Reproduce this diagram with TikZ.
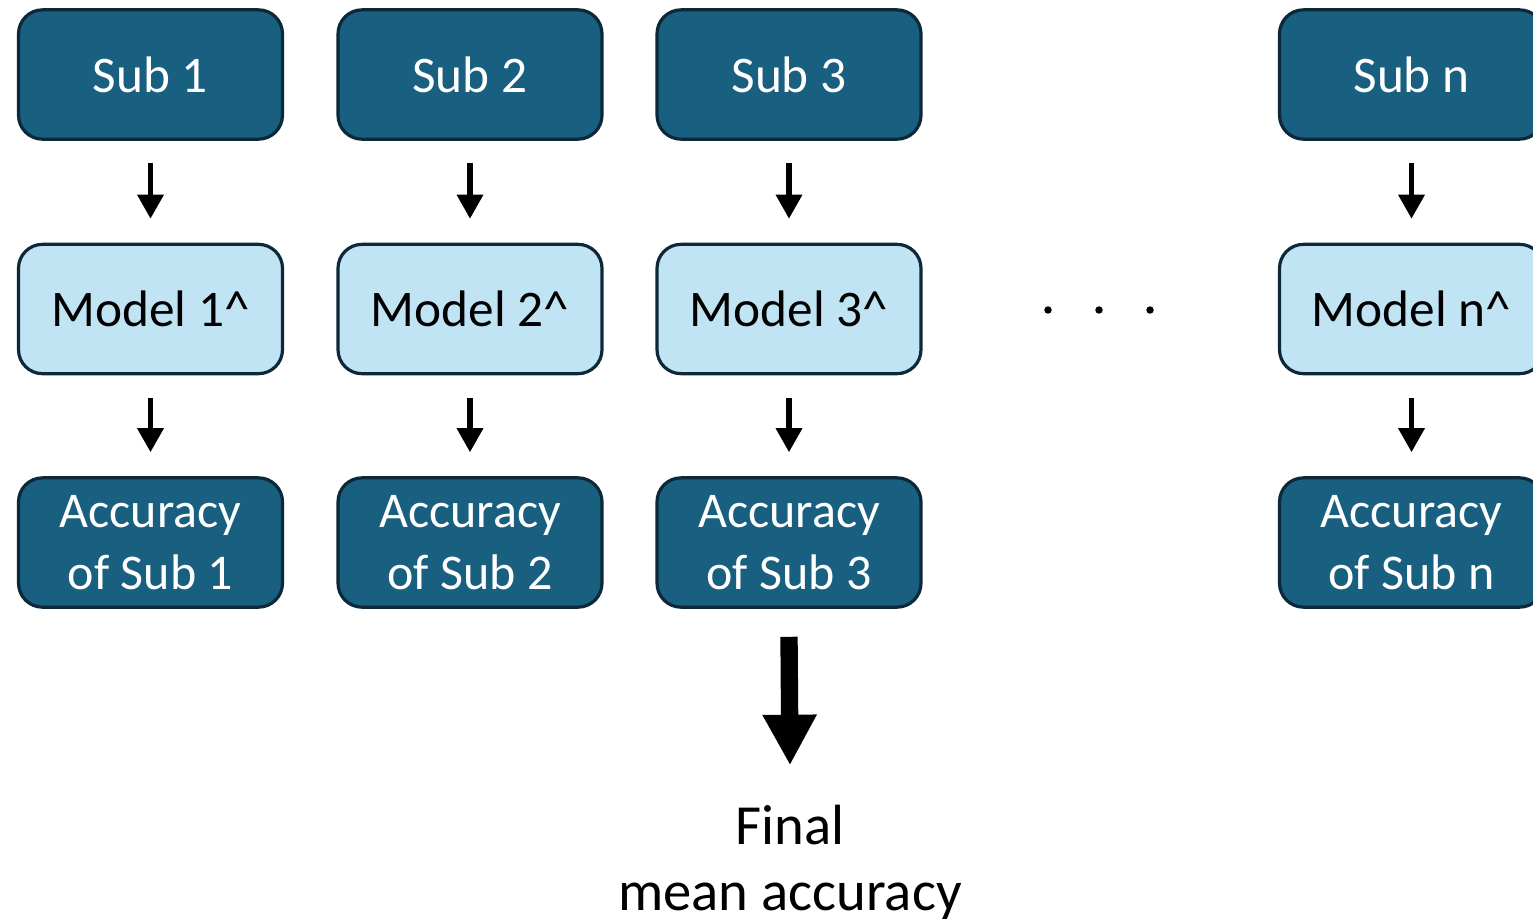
\documentclass[tikz,border=0pt]{standalone}
\usepackage{fontspec}
\setmainfont{Carlito}
\usetikzlibrary{arrows.meta}
\definecolor{subfill}{HTML}{185F80}
\definecolor{modfill}{HTML}{C1E4F5}
\definecolor{boxline}{HTML}{0C2839}
\tikzset{
  box/.style={draw=boxline, line width=2.4pt, rounded corners=18pt,
    minimum width=198pt, minimum height=97pt, inner sep=0pt, align=center},
  subbox/.style={box, fill=subfill, text=white, font=\fontsize{38.5}{44}\selectfont},
  modbox/.style={box, fill=modfill, text=black, font=\fontsize{38.5}{44}\selectfont},
  accbox/.style={box, fill=subfill, text=white, font=\fontsize{37.5}{46}\selectfont},
  smallarrow/.style={line width=4pt, -{Triangle[width=19pt,length=18pt]}},
  bigarrow/.style={line width=13pt, -{Triangle[width=38pt,length=38pt]}},
}
\begin{document}
\begin{tikzpicture}[x=0.75pt, y=-0.75pt]
\useasboundingbox (0,0) rectangle (1533,918);
\begin{scope}
\clip (0,0) rectangle (1533,918);
% columns of subject boxes
\foreach \i/\x in {1/150.5, 2/470, 3/789, n/1411.5} {
  \node[subbox] (s\i) at (\x,74.5) {Sub \i};
  \node[modbox] (m\i) at (\x,309) {Model \i\^{}};
  \node[accbox] (a\i) at (\x,542.5) {Accuracy\\of Sub \i};
  \draw[smallarrow] ([yshift=-17pt]s\i.south) -- ([yshift=18pt]m\i.north);
  \draw[smallarrow] ([yshift=-17pt]m\i.south) -- ([yshift=18pt]a\i.north);
}
\end{scope}
% ellipsis between the third and last column
\foreach \x in {1048,1099,1150} {
  \fill (\x,310) circle (2.8pt);
}
% final result
\node[font=\fontsize{42.5}{50}\selectfont, align=center, anchor=north] (fin) at (790,800) {Final\\mean accuracy};
\draw[bigarrow] ([yshift=-21pt]a3.south) -- ([yshift=26pt]fin.north);
\end{tikzpicture}
\end{document}
